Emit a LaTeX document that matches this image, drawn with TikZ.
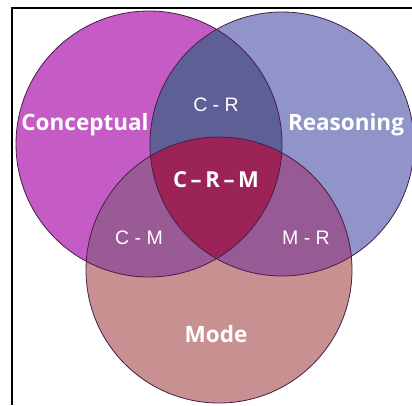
\documentclass[tikz,border=0pt]{standalone}
\usepackage{fontspec}
\setmainfont{Open Sans}
\newfontfamily\smallfont{Liberation Sans}
\definecolor{cC}{RGB}{197,91,197}
\definecolor{cR}{RGB}{145,148,201}
\definecolor{cM}{RGB}{201,144,145}
\definecolor{cCR}{RGB}{95,95,151}
\definecolor{cCM}{RGB}{154,90,150}
\definecolor{cMR}{RGB}{152,90,148}
\definecolor{cCRM}{RGB}{156,35,88}
\definecolor{edge}{RGB}{70,30,70}
\tikzset{
  big/.style={text=white, font=\fontsize{22.5}{22.5}\selectfont\bfseries, inner sep=0pt},
  small/.style={text=white, font=\smallfont\fontsize{19.5}{19.5}\selectfont, inner sep=0pt},
  center/.style={text=white, font=\fontsize{22}{22}\selectfont\bfseries, inner sep=0pt},
  rim/.style={draw=edge, line width=0.8pt},
}
\begin{document}
\begin{tikzpicture}[x=1pt,y=-1pt]
\useasboundingbox (0,0) rectangle (412,405);
\fill[white] (0,0) rectangle (412,405);
\def\circC{(149,144) circle[radius=133]}
\def\circR{(282,144) circle[radius=132]}
\def\circM{(219,270) circle[radius=133]}
\fill[cC] \circC;
\fill[cR] \circR;
\fill[cM] \circM;
\begin{scope}\clip \circC; \fill[cCR] \circR; \end{scope}
\begin{scope}\clip \circC; \fill[cCM] \circM; \end{scope}
\begin{scope}\clip \circR; \fill[cMR] \circM; \end{scope}
\begin{scope}\clip \circC; \clip \circR; \fill[cCRM] \circM; \end{scope}
\draw[rim] \circC;
\draw[rim] \circR;
\draw[rim] \circM;
\draw[black, line width=1.6pt] (12,405) -- (12,8) -- (412,8);
\node[big] (conc) at (85,125) {Conceptual};
\node[big] (reas) at (346,125) {Reasoning};
\node[small] (cr) at (216,105) {C - R};
\node[center] (crm) at (216,180) {C\,–\,R\,–\,M};
\node[small] (cm) at (139,238) {C - M};
\node[small] (mr) at (306,238) {M - R};
\node[big] (mode) at (216,334) {Mode};
\end{tikzpicture}
\end{document}
